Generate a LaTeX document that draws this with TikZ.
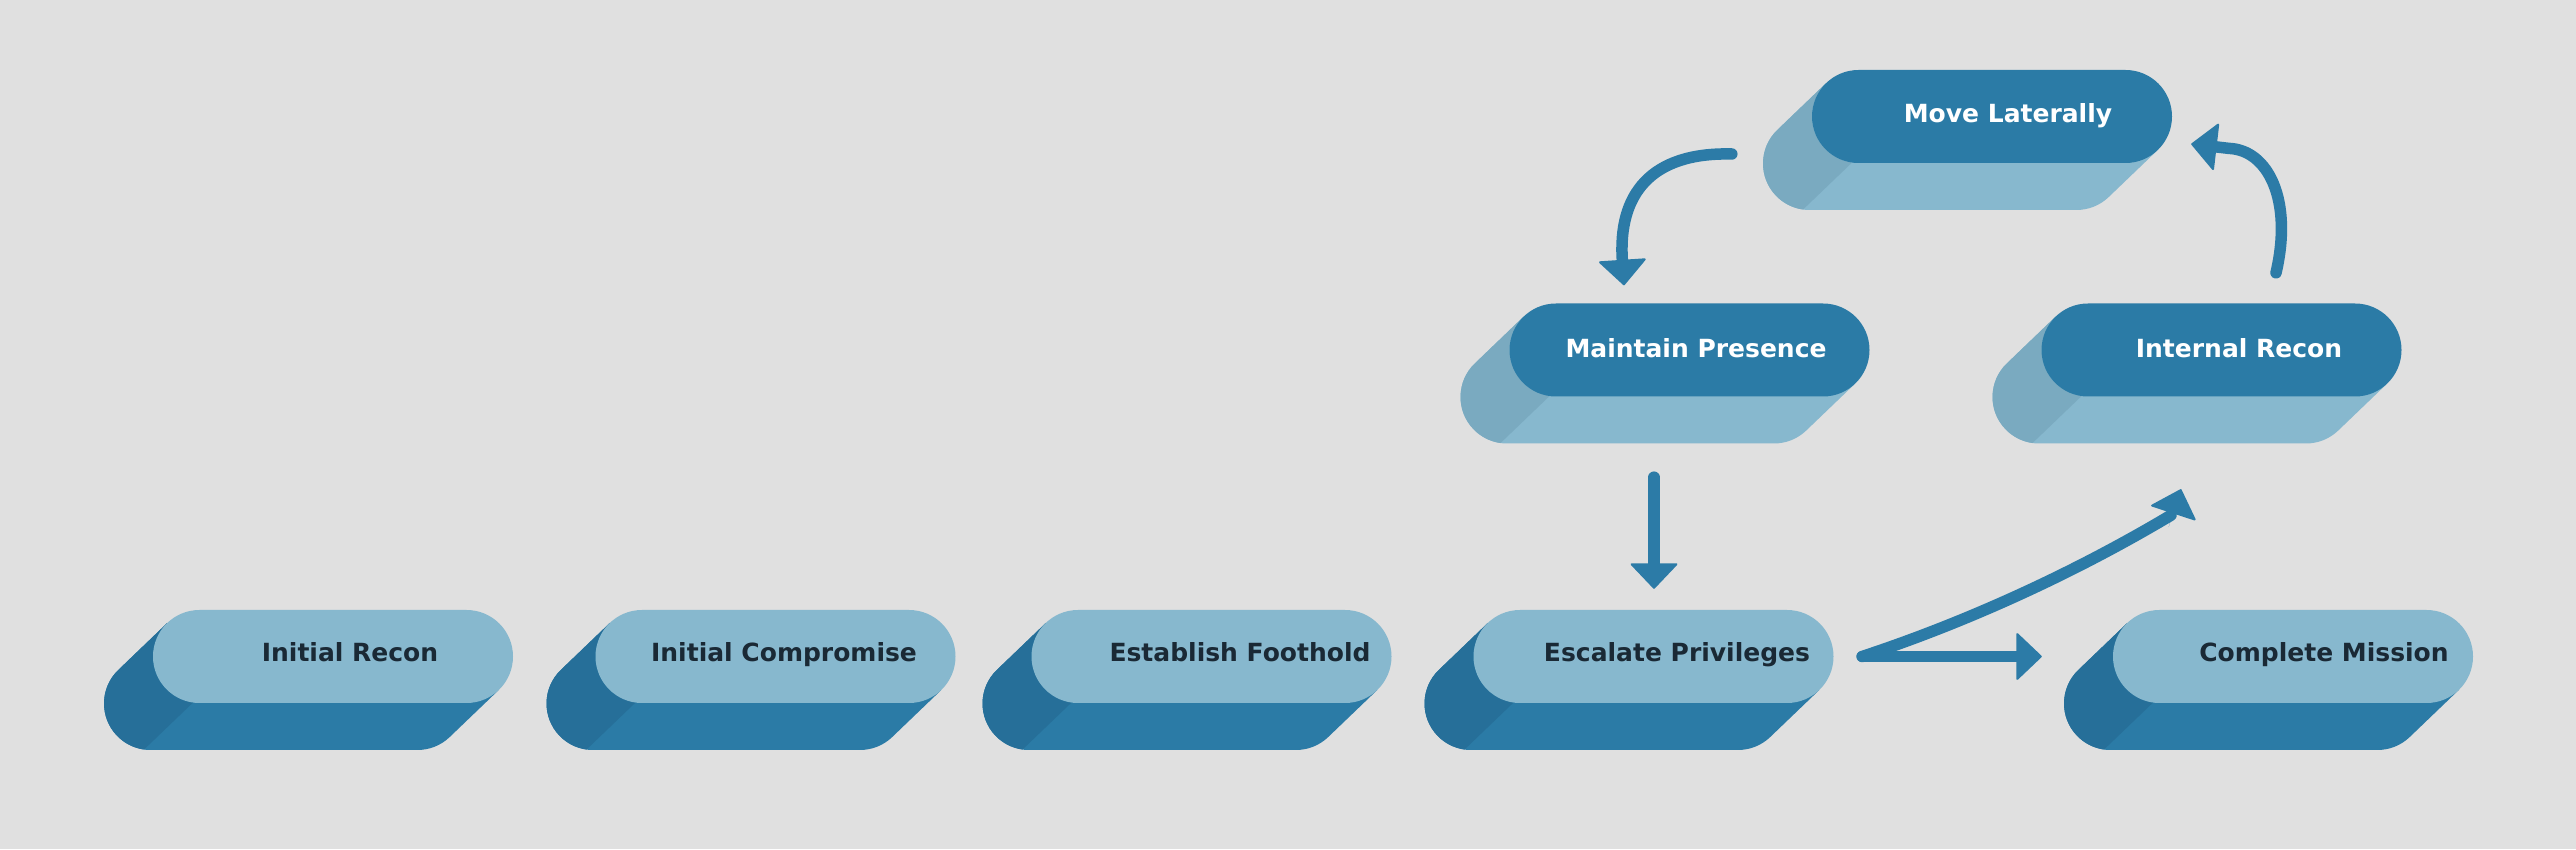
\documentclass[tikz,border=0pt]{standalone}
\usepackage{fontspec}
\setmainfont{DejaVu Sans}
\usetikzlibrary{arrows.meta,calc}
\definecolor{bg}{HTML}{E0E0E0}
\definecolor{lightc}{HTML}{87B8CE}
\definecolor{midc}{HTML}{2B7BA6}
\definecolor{darkside}{HTML}{266F99}
\definecolor{lightside}{HTML}{7AAAC0}
\definecolor{txtdark}{HTML}{1A2935}
\definecolor{arrowc}{HTML}{2C7BA7}
\tikzset{
  pillface/.style={rectangle, rounded corners=46.5pt, minimum width=360pt, minimum height=93pt, inner sep=0pt, draw=none},
  lbl/.style={anchor=base, font=\bfseries\fontsize{25}{30}\selectfont, inner sep=0pt},
  lbldark/.style={lbl, text=txtdark},
  lbllight/.style={lbl, text=white},
  headtip/.style={-{Triangle[length=26pt,width=49pt,line width=2pt,round]}},
  flowshaft/.style={draw=arrowc, line width=11.5pt, line cap=round, line join=round},
  flow/.style={flowshaft, headtip},
  headonly/.style={draw=arrowc, line width=0.01pt, headtip},
}
\newcommand\extpill[6]{%
  \begin{scope}[shift={(#2,#3)}]
    \fill[#5] (-133.5,0) ++(133.8:46.5) -- ++(-49,-47)
      arc[start angle=133.8,end angle=270,radius=46.5] -- (84.5,-93.5)
      arc[start angle=270,end angle=313.8,radius=46.5] -- ++(49,47) -- cycle;
    \fill[#6] (-133.5,0) ++(133.8:46.5) -- ++(-49,-47)
      arc[start angle=133.8,end angle=262,radius=46.5] -- ++(49,47)
      arc[start angle=262,end angle=133.8,radius=46.5] -- cycle;
  \end{scope}
  \node[pillface, fill=#4] (#1) at (#2,#3) {};
}
\begin{document}
\begin{tikzpicture}[x=1pt,y=1pt]
\useasboundingbox (0,0) rectangle (2576,849);
\fill[bg] (0,0) rectangle (2576,849);

% bottom row
\extpill{IR}{333}{192.5}{lightc}{midc}{darkside}
\extpill{IC}{775.5}{192.5}{lightc}{midc}{darkside}
\extpill{EF}{1211.5}{192.5}{lightc}{midc}{darkside}
\extpill{EP}{1653.5}{192.5}{lightc}{midc}{darkside}
\extpill{CM}{2293}{192.5}{lightc}{midc}{darkside}
% upper rows
\extpill{MP}{1689.5}{499}{midc}{lightc}{lightside}
\extpill{IN}{2221.5}{499}{midc}{lightc}{lightside}
\extpill{ML}{1992}{732.5}{midc}{lightc}{lightside}

% labels
\node[lbldark] (IRt) at (350,187) {Initial Recon};
\node[lbldark] (ICt) at (784,187) {Initial Compromise};
\node[lbldark] (EFt) at (1240,187) {Establish Foothold};
\node[lbldark] (EPt) at (1677,187) {Escalate Privileges};
\node[lbldark] (CMt) at (2324,187) {Complete Mission};
\node[lbllight] (MPt) at (1696,491) {Maintain Presence};
\node[lbllight] (INt) at (2239,491) {Internal Recon};
\node[lbllight] (MLt) at (2008,726) {Move Laterally};

% connectors
\coordinate (s1) at ($(EP.east)+(28.5,0)$);
\coordinate (inTip) at ($(IN.south)+(-40.5,-92.5)$);
\coordinate (inBase) at ($(inTip)+(-10,-26)$);
\coordinate (inTail) at ($(inTip)+(-12.4,-38)$);
\draw[flow] (s1) -- ($(CM.west)+(-71,0)$);
\draw[flowshaft] (s1) .. controls (1973,229) and (2081,280) .. (inBase);
\draw[headonly] (inTail) -- (inTip);
\draw[flow] ($(MP.south)+(-35.5,-80.5)$) -- ($(EP.north)+(0.5,21)$);
\draw[flow] ($(ML.west)+(-80,-37.5)$) .. controls (1650,697) and (1618,654) .. ($(MP.north)+(-65.5,18)$);
\draw[flow] ($(IN.north)+(54.5,30.5)$) .. controls (2293,649) and (2268,699) .. (2229,700.6)
  -- ($(ML.east)+(19,-27.5)$);
\end{tikzpicture}
\end{document}
